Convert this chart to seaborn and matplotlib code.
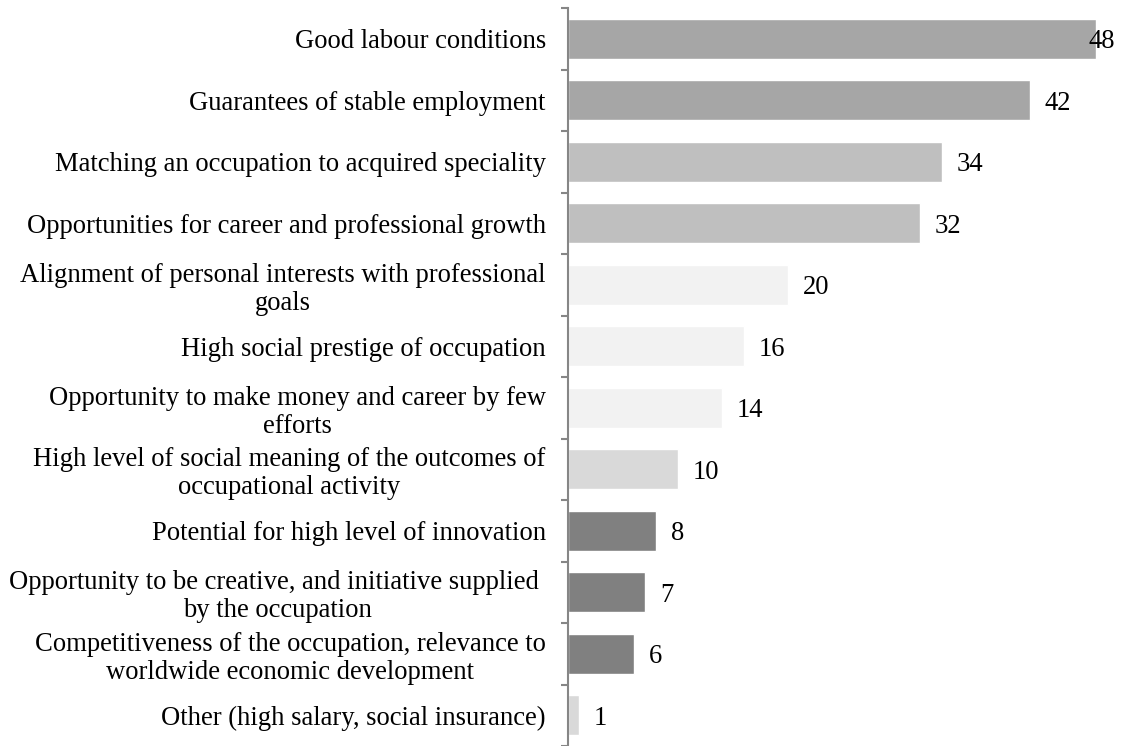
import matplotlib
matplotlib.use("Agg")
import matplotlib.pyplot as plt
import seaborn as sns
import pandas as pd
from matplotlib.ticker import FixedLocator

categories = [
    "Good labour conditions",
    "Guarantees of stable employment",
    "Matching an occupation to acquired speciality",
    "Opportunities for career and professional growth",
    "Alignment of personal interests with professional\ngoals",
    "High social prestige of occupation",
    "Opportunity to make money and career by few\nefforts",
    "High level of social meaning of the outcomes of\noccupational activity",
    "Potential for high level of innovation",
    "Opportunity to be creative, and initiative supplied \nby the occupation",
    "Competitiveness of the occupation, relevance to\nworldwide economic development",
    "Other (high salary, social insurance)",
]
values = [48, 42, 34, 32, 20, 16, 14, 10, 8, 7, 6, 1]
bar_colors = [
    "#a6a6a6", "#a6a6a6", "#bfbfbf", "#bfbfbf",
    "#f2f2f2", "#f2f2f2", "#f2f2f2", "#d9d9d9",
    "#808080", "#808080", "#808080", "#d9d9d9",
]

sns.set_style("white")
plt.rcParams["font.family"] = ["Liberation Serif", "DejaVu Serif"]

df = pd.DataFrame({"category": categories, "value": values})

fig = plt.figure(figsize=(11.25, 7.46), dpi=100)
ax = fig.add_axes([568 / 1125, 0.0, (1096 - 568) / 1125, 1 - 8 / 746])

sns.barplot(
    data=df, x="value", y="category", hue="category",
    palette=dict(zip(categories, bar_colors)), legend=False,
    orient="h", width=0.65, ax=ax, saturation=1,
)

xmax = max(values)
ax.set_xlim(0, xmax)
ax.set_ylim(len(categories) - 0.5, -0.5)
ax.set_xlabel("")
ax.set_ylabel("")
ax.set_xticks([])

for s in ["top", "right", "bottom"]:
    ax.spines[s].set_visible(False)
ax.spines["left"].set_color("#868686")
ax.spines["left"].set_linewidth(1.5)

fs = 19.2
# labels at category centres, tick marks on the boundaries between them
ax.tick_params(axis="y", which="major", left=False, length=0, pad=16, labelsize=fs, labelcolor="black")
ax.yaxis.set_minor_locator(FixedLocator([i - 0.5 for i in range(len(categories) + 1)]))
ax.tick_params(axis="y", which="minor", left=True, length=5, width=1.5, color="#868686", direction="out")
for lbl in ax.get_yticklabels():
    lbl.set_multialignment("center")
    lbl.set_linespacing(1.15)

for i, v in enumerate(values):
    x = v + 1.35
    if x > xmax - 0.6:
        x = xmax - 0.65
    ax.text(x, i, str(v), va="center_baseline", ha="left", fontsize=fs, color="black", clip_on=False)

fig.savefig("out.png", dpi=100)
